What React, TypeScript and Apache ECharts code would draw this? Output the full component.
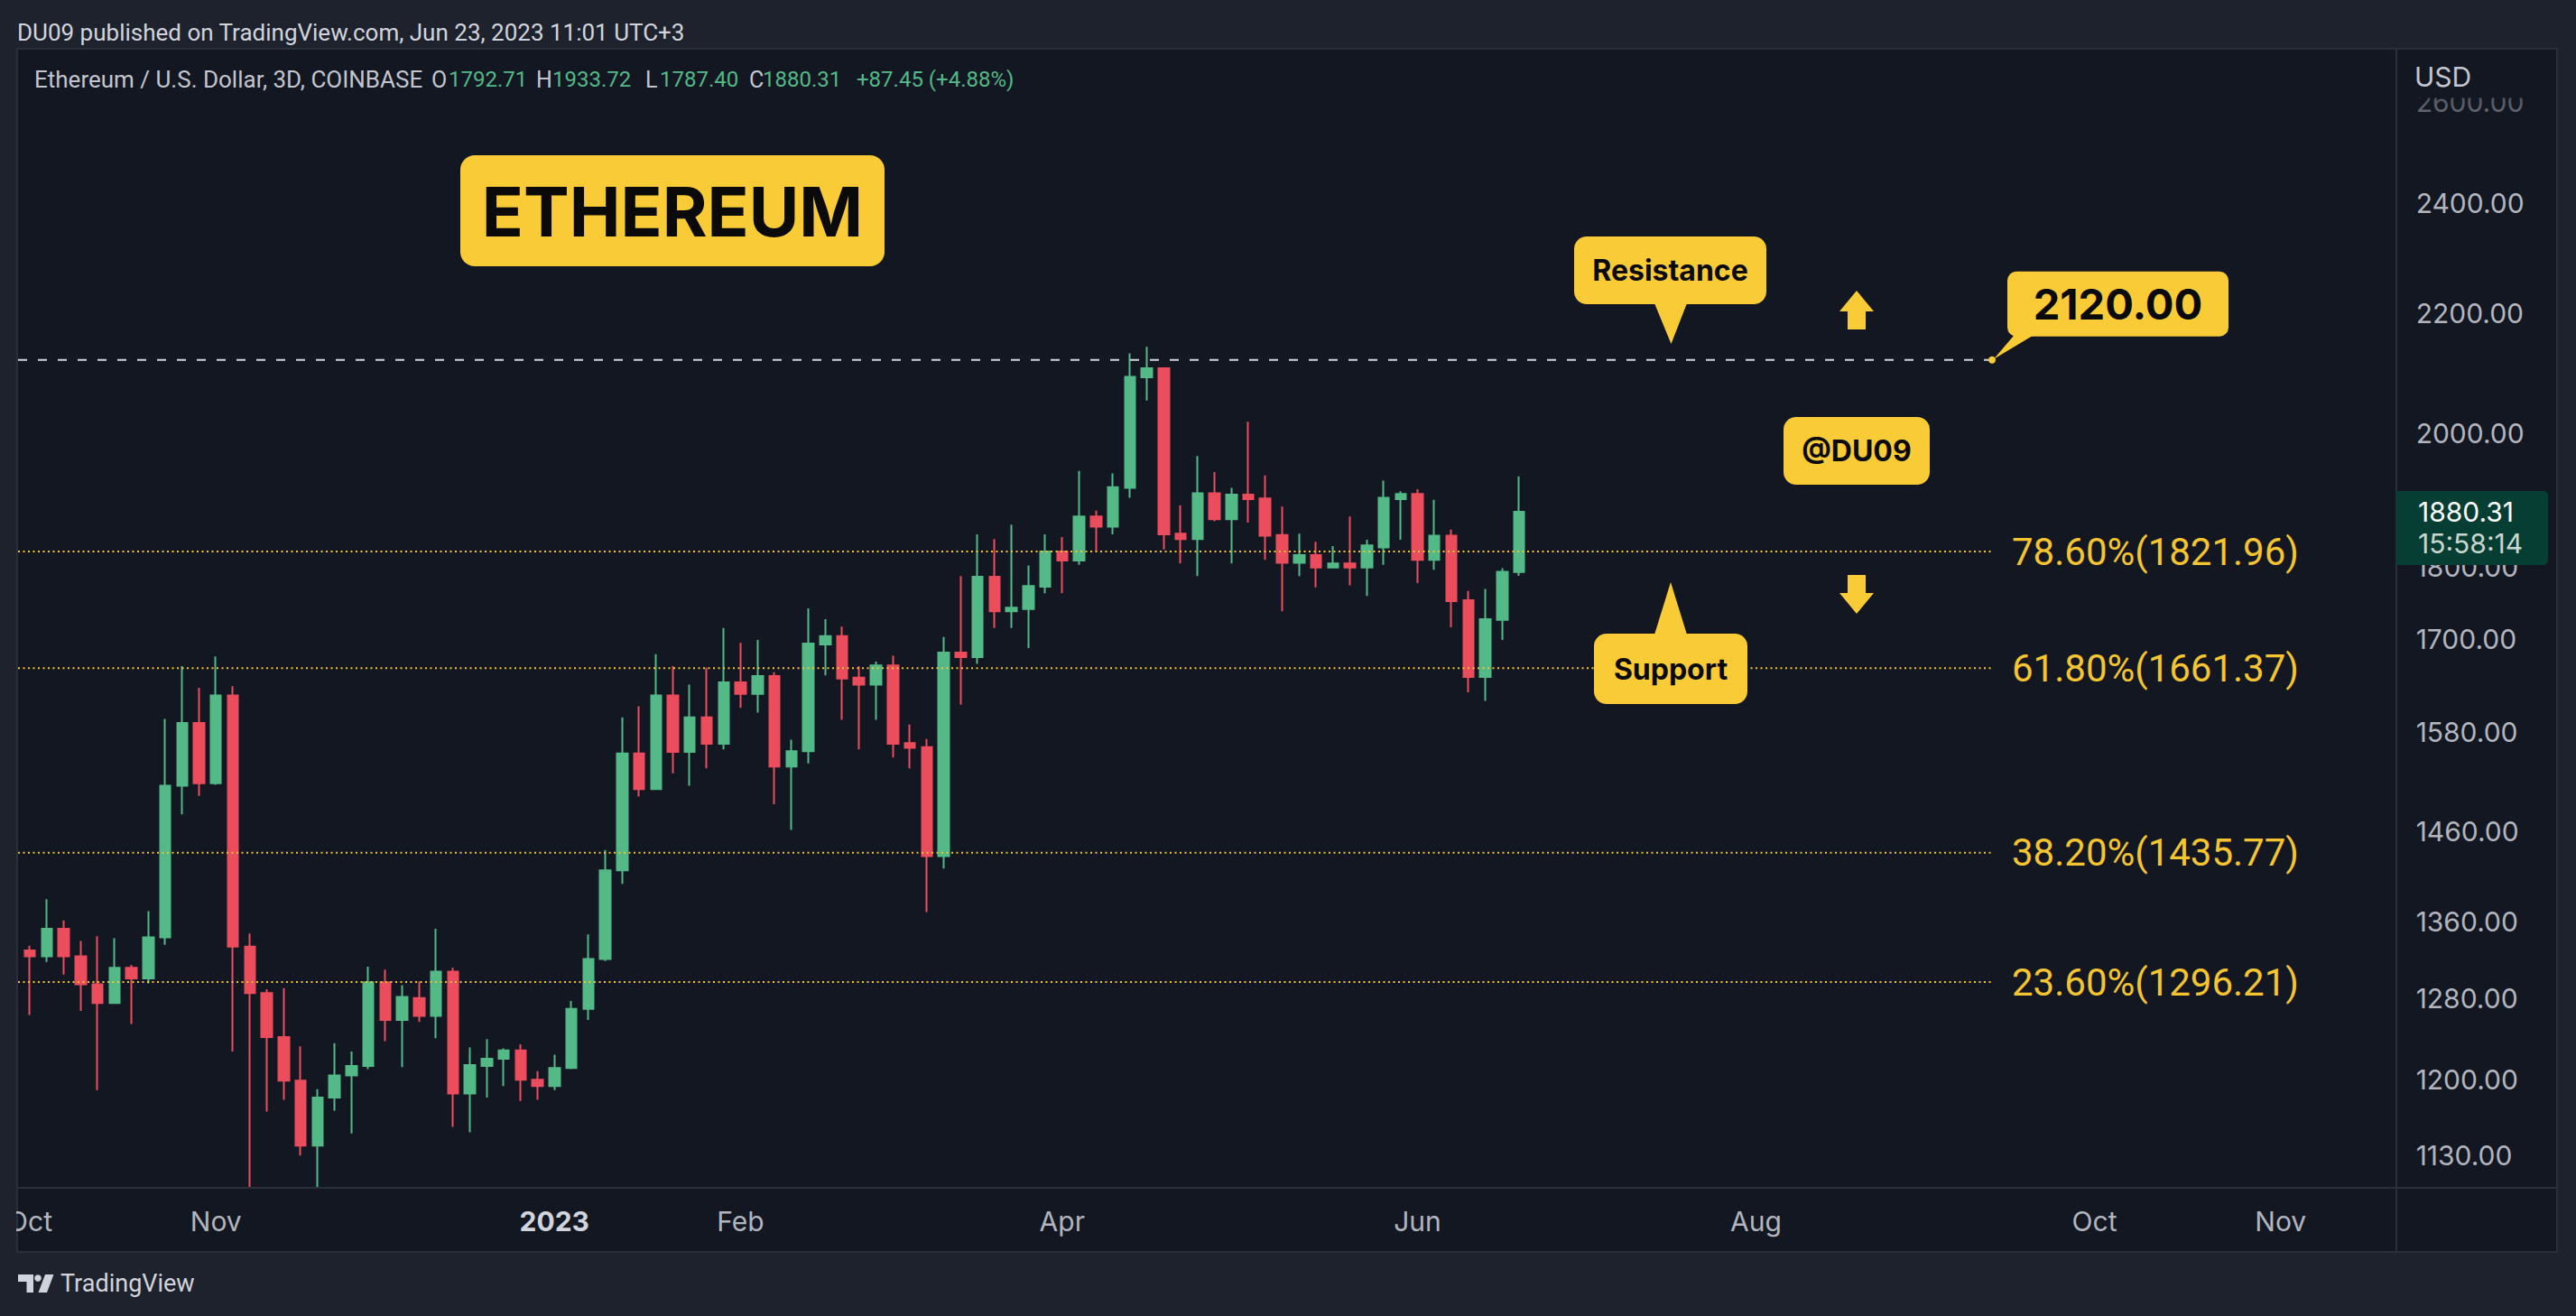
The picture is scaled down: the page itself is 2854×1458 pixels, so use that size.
import React, { useEffect, useRef } from "react";
import * as echarts from "echarts";

const WIDTH = 2854;
const HEIGHT = 1458;

// ---- Candle data (ETH/USD 3D, Coinbase), one entry per bar ----
const opens = [
  1329, 1323, 1352, 1323, 1294, 1275, 1311, 1300, 1343, 1514,
  1591, 1517, 1626, 1333, 1285, 1241, 1199, 1139, 1183, 1204,
  1213, 1296, 1258, 1280, 1262, 1307, 1187, 1213, 1220, 1228,
  1200, 1194, 1211, 1269, 1320, 1416, 1553, 1510, 1626, 1555,
  1598, 1565, 1643, 1628, 1651, 1537, 1556, 1693, 1704, 1649,
  1640, 1665, 1566, 1561, 1432, 1682, 1676, 1786, 1738, 1741,
  1772, 1822, 1809, 1873, 1858, 1916, 2091, 2106, 1848, 1840,
  1908, 1869, 1906, 1900, 1846, 1806, 1817, 1799, 1805, 1799,
  1828, 1899, 1907, 1810, 1845, 1753, 1650, 1726, 1792.71,
];
const highs = [
  1334, 1384, 1361, 1339, 1344, 1342, 1314, 1371, 1596, 1664,
  1636, 1677, 1638, 1347, 1289, 1290, 1232, 1191, 1235, 1227,
  1312, 1309, 1293, 1297, 1352, 1311, 1231, 1239, 1230, 1234,
  1208, 1224, 1277, 1346, 1439, 1598, 1612, 1680, 1664, 1640,
  1662, 1715, 1695, 1699, 1656, 1570, 1742, 1727, 1717, 1664,
  1670, 1678, 1589, 1571, 1703, 1787, 1847, 1840, 1861, 1802,
  1847, 1843, 1942, 1882, 1938, 2131, 2142, 2107, 1890, 1965,
  1940, 1916, 2019, 1935, 1888, 1848, 1836, 1830, 1873, 1839,
  1927, 1911, 1914, 1898, 1854, 1766, 1769, 1798, 1933.72,
];
const lows = [
  1263, 1317, 1304, 1267, 1190, 1274, 1254, 1295, 1335, 1480,
  1502, 1515, 1227, 1074, 1170, 1181, 1130, 1081, 1171, 1150,
  1210, 1237, 1212, 1256, 1240, 1156, 1151, 1183, 1194, 1180,
  1181, 1190, 1210, 1258, 1318, 1401, 1501, 1509, 1529, 1514,
  1535, 1558, 1610, 1604, 1492, 1462, 1541, 1652, 1595, 1558,
  1595, 1548, 1535, 1370, 1418, 1614, 1667, 1715, 1715, 1688,
  1763, 1763, 1803, 1823, 1847, 1901, 2053, 1825, 1805, 1787,
  1866, 1805, 1864, 1810, 1738, 1787, 1771, 1798, 1774, 1759,
  1803, 1839, 1777, 1796, 1716, 1630, 1619, 1699, 1787.4,
];
const closes = [
  1323, 1352, 1323, 1294, 1275, 1311, 1300, 1343, 1514, 1591,
  1517, 1626, 1333, 1285, 1241, 1199, 1139, 1183, 1204, 1213,
  1296, 1258, 1281, 1262, 1307, 1187, 1214, 1220, 1228, 1200,
  1194, 1211, 1269, 1320, 1416, 1553, 1510, 1626, 1555, 1598,
  1565, 1643, 1628, 1651, 1537, 1556, 1694, 1704, 1648, 1640,
  1665, 1565, 1560, 1432, 1682, 1676, 1786, 1738, 1743, 1773,
  1822, 1809, 1873, 1858, 1917, 2092, 2106, 1847, 1840, 1908,
  1869, 1906, 1899, 1845, 1806, 1817, 1799, 1805, 1799, 1831,
  1901, 1907, 1810, 1845, 1752, 1650, 1727, 1793, 1880.31,
];

// ---- Axes ----
const slotCount = 140; // bars visible on the time scale (incl. empty future space)
const monthIndex = [0, 11, 31, 42, 61, 82, 102, 122, 133];
const monthLabels = ["Oct", "Nov", "2023", "Feb", "Apr", "Jun", "Aug", "Oct", "Nov"];
const boldLabels = ["2023"];
const priceTicks = [1130, 1200, 1280, 1360, 1460, 1580, 1700, 1800, 2000, 2200, 2400, 2600];
const priceMin = 1101.6;
const priceMax = 2709.6;

// ---- Levels ----
const fibLevels = [1821.96, 1661.37, 1435.77, 1296.21];
const fibRatios = [78.6, 61.8, 38.2, 23.6];
const resistanceLevel = 2120;
const change = 87.45;
const changePct = 4.88;
const countdown = "15:58:14";

// ---- Styles ----
const UP = "#53b987";
const DOWN = "#eb4d5c";
const PANEL = "#131722";
const OUTER = "#1e222d";
const BORDER = "#2a2e39";
const AXIS_TEXT = "#b2b5be";
const YELLOW = "#f9cb36";
const FIB = "#f5c431";
const INTER = "Inter, Roboto, sans-serif";
const ROBOTO = "Roboto, 'Noto Sans', sans-serif";

const BAR_STEP = 18.75;

function buildOption() {
  const cats = Array.from({ length: slotCount }, (_, i) => String(i));
  const candles = opens.map((o, i) => [
    Math.log(o),
    Math.log(closes[i]),
    Math.log(lows[i]),
    Math.log(highs[i]),
  ]);
  return {
    animation: false,
    backgroundColor: OUTER,
    grid: {
      left: 23.625,
      top: 55,
      width: slotCount * BAR_STEP,
      height: 1261,
      containLabel: false,
    },
    xAxis: {
      type: "category",
      z: 20,
      data: cats,
      boundaryGap: true,
      axisLine: { show: false },
      axisTick: { show: false },
      splitLine: { show: false },
      axisLabel: {
        interval: 0,
        margin: 22,
        color: AXIS_TEXT,
        fontSize: 30,
        fontFamily: INTER,
        formatter: (v: string) => {
          const k = monthIndex.indexOf(Number(v));
          if (k < 0) return "";
          const t = monthLabels[k];
          return boldLabels.includes(t) ? `{b|${t}}` : t;
        },
        rich: {
          b: { fontWeight: "bold", fontSize: 30, fontFamily: INTER, color: "#d1d4dc" },
        },
      },
    },
    yAxis: {
      type: "value",
      position: "right",
      z: 20,
      min: Math.log(priceMin),
      max: Math.log(priceMax),
      splitLine: { show: false },
      axisLine: { show: false },
      axisTick: { show: false },
      axisLabel: {
        customValues: priceTicks.map((p) => Math.log(p)),
        formatter: (v: number) => Math.exp(v).toFixed(2),
        color: AXIS_TEXT,
        fontSize: 30,
        fontFamily: INTER,
        margin: 28,
      },
    },
    series: [
      {
        type: "candlestick",
        data: candles,
        barWidth: 12,
        clip: true,
        itemStyle: {
          color: UP,
          color0: DOWN,
          borderColor: UP,
          borderColor0: DOWN,
          borderWidth: 2,
        },
        emphasis: { disabled: true },
      },
    ],
  };
}

function callout(
  box: [number, number, number, number],
  text: string,
  fontSize: number,
  tail: number[][] | null,
  radius = 14
) {
  const [x, y, w, h] = box;
  const els: any[] = [
    {
      type: "rect",
      z: 100,
      shape: { x, y, width: w, height: h, r: radius },
      style: { fill: YELLOW },
    },
    {
      type: "text",
      z: 101,
      x: x + w / 2,
      y: y + h / 2,
      style: {
        text,
        fill: "#0a0a0a",
        fontSize,
        fontWeight: "bold",
        fontFamily: INTER,
        align: "center",
        verticalAlign: "middle",
      },
    },
  ];
  if (tail) {
    els.push({
      type: "polygon",
      z: 100,
      shape: { points: tail },
      style: { fill: YELLOW },
    });
  }
  return els;
}

function buildGraphics(py: (p: number) => number) {
  const els: any[] = [];
  const last = opens.length - 1;

  // panel and borders
  els.push({
    type: "rect",
    z: -10,
    shape: { x: 19, y: 54, width: 2814, height: 1333 },
    style: { fill: PANEL, stroke: BORDER, lineWidth: 2 },
  });
  els.push({
    type: "line",
    z: -9,
    shape: { x1: 2655, y1: 54, x2: 2655, y2: 1387 },
    style: { stroke: BORDER, lineWidth: 2 },
  });
  // time-axis strip drawn over the series so that wicks stop at the plot edge
  els.push({
    type: "rect",
    z: 10,
    shape: { x: 20, y: 1317, width: 2634, height: 69 },
    style: { fill: PANEL },
  });
  els.push({
    type: "line",
    z: 11,
    shape: { x1: 19, y1: 1316, x2: 2833, y2: 1316 },
    style: { stroke: BORDER, lineWidth: 2 },
  });
  // clip first time label at frame edge
  els.push({
    type: "rect",
    z: 100,
    shape: { x: 0, y: 1318, width: 18, height: 68 },
    style: { fill: OUTER },
  });

  // Fibonacci levels
  fibLevels.forEach((lv, i) => {
    const y = py(lv);
    els.push({
      type: "line",
      z: 5,
      shape: { x1: 20, y1: y, x2: 2206, y2: y },
      style: { stroke: FIB, lineWidth: 2, lineDash: [2, 3.5] },
    });
    els.push({
      type: "text",
      z: 5,
      x: 2229,
      y,
      style: {
        text: `${fibRatios[i].toFixed(2)}%(${lv.toFixed(2)})`,
        fill: FIB,
        fontSize: 42,
        fontFamily: ROBOTO,
        align: "left",
        verticalAlign: "middle",
      },
    });
  });

  // Resistance dashed line
  const yR = py(resistanceLevel);
  els.push({
    type: "line",
    z: 5,
    shape: { x1: 20, y1: yR, x2: 2207, y2: yR },
    style: { stroke: "#d1d4dc", lineWidth: 2, lineDash: [10, 12] },
  });
  els.push({
    type: "circle",
    z: 102,
    shape: { cx: 2207, cy: yR, r: 4 },
    style: { fill: YELLOW },
  });
  els.push(
    ...callout(
      [2224, yR - 98, 245, 72],
      resistanceLevel.toFixed(2),
      47,
      [
        [2232, yR - 28],
        [2254, yR - 28],
        [2209, yR - 1],
      ],
      10
    )
  );

  // Callouts
  els.push(
    ...callout([1744, 262, 213, 75], "Resistance", 32, [
      [1833, 336],
      [1869, 336],
      [1851.5, 381],
    ])
  );
  els.push(
    ...callout([1766, 702, 170, 78], "Support", 32, [
      [1833, 703],
      [1869, 703],
      [1851, 645],
    ])
  );
  els.push(...callout([1976, 462, 162, 75], "@DU09", 32, null));
  els.push(...callout([510, 172, 470, 123], "ETHEREUM", 76, null, 16));

  // arrows
  els.push({
    type: "polygon",
    z: 100,
    shape: {
      points: [
        [2057, 322],
        [2076, 345],
        [2067, 345],
        [2067, 365],
        [2047, 365],
        [2047, 345],
        [2038, 345],
      ],
    },
    style: { fill: YELLOW },
  });
  els.push({
    type: "polygon",
    z: 100,
    shape: {
      points: [
        [2047, 637],
        [2067, 637],
        [2067, 657],
        [2076, 657],
        [2057, 680],
        [2038, 657],
        [2047, 657],
      ],
    },
    style: { fill: YELLOW },
  });

  // price axis header (USD) with fade over the top label
  els.push({
    type: "rect",
    z: 100,
    shape: { x: 2657, y: 56, width: 175, height: 70 },
    style: {
      fill: new echarts.graphic.LinearGradient(0, 0, 0, 1, [
        { offset: 0, color: PANEL },
        { offset: 0.74, color: PANEL },
        { offset: 0.76, color: "rgba(19,23,34,0.6)" },
        { offset: 1, color: "rgba(19,23,34,0.5)" },
      ]),
    },
  });
  els.push({
    type: "text",
    z: 101,
    x: 2675,
    y: 85,
    style: {
      text: "USD",
      fill: "#c3c6ce",
      fontSize: 30,
      fontFamily: INTER,
      align: "left",
      verticalAlign: "middle",
    },
  });

  // last price label
  const yC = py(closes[last]);
  els.push({
    type: "rect",
    z: 100,
    shape: { x: 2655, y: yC - 23, width: 168, height: 82, r: [0, 5, 5, 0] },
    style: { fill: "#073e33" },
  });
  els.push({
    type: "text",
    z: 101,
    x: 2679,
    y: yC,
    style: {
      text: closes[last].toFixed(2),
      fill: "#ffffff",
      fontSize: 30,
      fontFamily: INTER,
      align: "left",
      verticalAlign: "middle",
    },
  });
  els.push({
    type: "text",
    z: 101,
    x: 2679,
    y: yC + 35,
    style: {
      text: countdown,
      fill: "#c9d6d0",
      fontSize: 30,
      fontFamily: INTER,
      align: "left",
      verticalAlign: "middle",
    },
  });

  // Header
  els.push({
    type: "text",
    z: 101,
    x: 19,
    y: 36,
    style: {
      text: "DU09 published on TradingView.com, Jun 23, 2023 11:01 UTC+3",
      fill: "#d1d4dc",
      fontSize: 26,
      fontFamily: ROBOTO,
      align: "left",
      verticalAlign: "middle",
    },
  });

  // Legend
  const GREY = "#c3c6ce";
  const legendItems: [number, string, string, number][] = [
    [38, "Ethereum / U.S. Dollar, 3D, COINBASE", GREY, 26],
    [478, "O", GREY, 25],
    [497, opens[last].toFixed(2), UP, 24],
    [594, "H", GREY, 25],
    [612, highs[last].toFixed(2), UP, 24],
    [715, "L", GREY, 25],
    [731, lows[last].toFixed(2), UP, 24],
    [830, "C", GREY, 25],
    [845, closes[last].toFixed(2), UP, 24],
    [949, `+${change.toFixed(2)} (+${changePct.toFixed(2)}%)`, UP, 24],
  ];
  legendItems.forEach(([x, t, c, fs]) => {
    els.push({
      type: "text",
      z: 101,
      x,
      y: 88,
      style: {
        text: t,
        fill: c,
        fontSize: fs,
        fontFamily: ROBOTO,
        align: "left",
        verticalAlign: "middle",
      },
    });
  });

  // TradingView logo
  els.push({
    type: "polygon",
    z: 101,
    shape: {
      points: [
        [20, 1412],
        [37, 1412],
        [37, 1432],
        [29.5, 1432],
        [29.5, 1420],
        [20, 1420],
      ],
    },
    style: { fill: "#d1d4dc" },
  });
  els.push({
    type: "circle",
    z: 101,
    shape: { cx: 42, cy: 1416, r: 3.8 },
    style: { fill: "#d1d4dc" },
  });
  els.push({
    type: "polygon",
    z: 101,
    shape: {
      points: [
        [42.5, 1432],
        [50, 1412],
        [59.5, 1412],
        [52, 1432],
      ],
    },
    style: { fill: "#d1d4dc" },
  });
  els.push({
    type: "text",
    z: 101,
    x: 67,
    y: 1422,
    style: {
      text: "TradingView",
      fill: "#d1d4dc",
      fontSize: 27,
      fontFamily: ROBOTO,
      align: "left",
      verticalAlign: "middle",
    },
  });

  return els;
}

export default function App() {
  const ref = useRef<HTMLDivElement>(null);
  useEffect(() => {
    document.body.style.margin = "0";
    const chart = echarts.init(ref.current as HTMLDivElement, null, {
      renderer: "svg",
      width: WIDTH,
      height: HEIGHT,
    });
    chart.setOption(buildOption() as any);
    const py = (p: number) =>
      chart.convertToPixel({ yAxisIndex: 0 }, Math.log(p)) as unknown as number;
    chart.setOption({ graphic: buildGraphics(py) } as any);
    return () => chart.dispose();
  }, []);
  return <div ref={ref} style={{ width: WIDTH, height: HEIGHT }} />;
}
